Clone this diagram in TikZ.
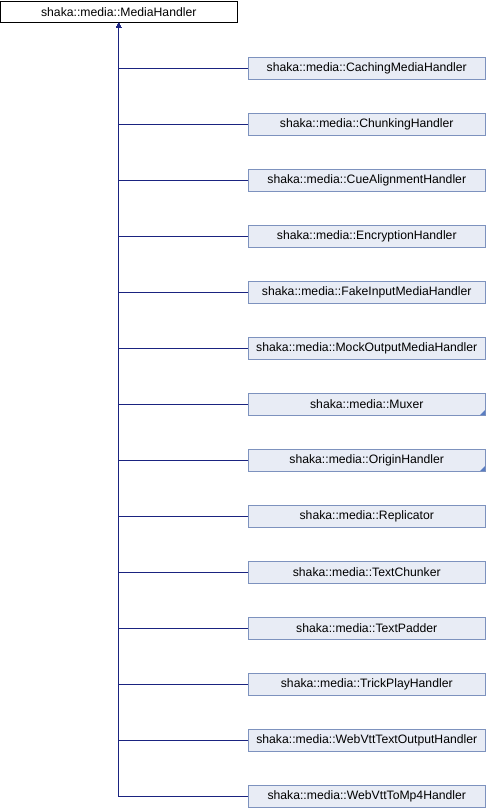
\documentclass[tikz,border=0pt]{standalone}
\usepackage{fontspec}
\setmainfont{Liberation Sans}
\usepackage{tikz}
\usetikzlibrary{calc,arrows.meta}

\definecolor{boxfill}{HTML}{E8ECF5}
\definecolor{boxline}{HTML}{7D92BE}
\definecolor{edgeblue}{HTML}{1A2380}
\definecolor{markblue}{HTML}{5A7DC2}

\tikzset{
  basebox/.style={draw=black,fill=white,line width=0.8pt,minimum width=237pt,minimum height=21pt,inner sep=0pt,font=\fontsize{12.2}{14}\selectfont},
  derived/.style={draw=boxline,fill=boxfill,line width=0.8pt,minimum width=237pt,minimum height=22pt,inner sep=0pt,font=\fontsize{12.2}{14}\selectfont},
  inherit/.style={edgeblue,line width=0.9pt,{Triangle[length=5pt,width=5pt]}-},
}

\begin{document}
\begin{tikzpicture}[x=1pt,y=-1pt]
  \useasboundingbox (0,0) rectangle (486,808);
  % base class
  \node[basebox] (base) at (118.75,12) {shaka::media::MediaHandler};
  % derived classes, one row every 56px
  \pgfmathsetmacro{\rowstep}{56}
  \foreach \cls [count=\i] in {CachingMediaHandler,ChunkingHandler,CueAlignmentHandler,EncryptionHandler,FakeInputMediaHandler,MockOutputMediaHandler,Muxer,OriginHandler,Replicator,TextChunker,TextPadder,TrickPlayHandler,WebVttTextOutputHandler,WebVttToMp4Handler}{
    \node[derived] (c\i) at (366.75,{68+\rowstep*(\i-1)}) {shaka::media::\cls};
    \draw[inherit] (base.south) |- (c\i.west);
  }
  % truncated markers on Muxer and OriginHandler
  \foreach \i in {7,8}{
    \fill[markblue] ($(c\i.south east)+(-0.5,-0.5)$) -- ++(-5,0) -- ++(5,-5) -- cycle;
  }
\end{tikzpicture}
\end{document}
